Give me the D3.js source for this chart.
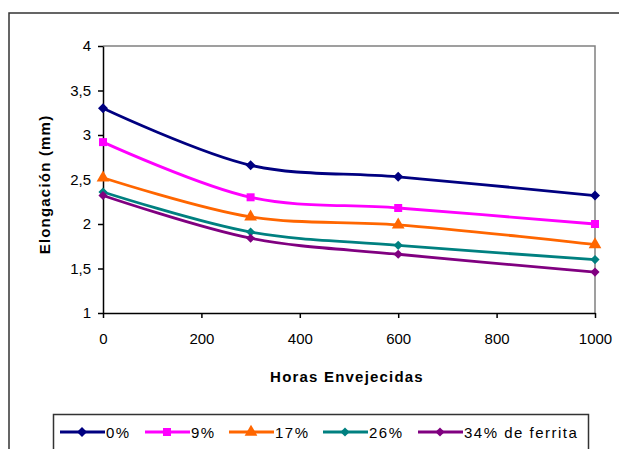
<!DOCTYPE html>
<html lang="es">
<head>
<meta charset="UTF-8">
<title>Elongación vs Horas Envejecidas</title>
<script src="https://d3js.org/d3.v7.min.js"></script>
<style>
  body { margin: 0; background: #fff; font-family: "Liberation Sans", Arial, sans-serif; }
</style>
</head>
<body>
<svg id="chart" width="619" height="449"></svg>
<script>
const hours = [0, 300, 600, 1000];
const seriesNames = ["0%", "9%", "17%", "26%", "34% de ferrita"];
const ferrite0 = [3.30, 2.66, 2.53, 2.32];
const ferrite9 = [2.92, 2.30, 2.18, 2.00];
const ferrite17 = [2.52, 2.08, 1.99, 1.77];
const ferrite26 = [2.36, 1.91, 1.76, 1.60];
const ferrite34 = [2.32, 1.84, 1.66, 1.46];
const yTicks = [1, 1.5, 2, 2.5, 3, 3.5, 4];
const xTicks = [0, 200, 400, 600, 800, 1000];

const colors = ["#000080", "#ff00ff", "#ff6600", "#008080", "#800080"];
// diamonds are drawn as squares turned 45 degrees
const symbols = [d3.symbolSquare, d3.symbolSquare, d3.symbolTriangle, d3.symbolSquare, d3.symbolSquare];
const symRot = [45, 0, 0, 45, 45];
const symSize = [50, 64, 70, 42, 42];

const series = [ferrite0, ferrite9, ferrite17, ferrite26, ferrite34].map((vals, i) => ({
  name: seriesNames[i],
  values: vals.map((v, j) => ({ x: hours[j], y: v }))
}));

const svg = d3.select("#chart");
const plotL = 103, plotR = 595, plotT = 46, plotB = 313;
const font = "'Liberation Sans', Arial, sans-serif";

// outer chart frame
svg.append("rect")
   .attr("x", 9).attr("y", 13)
   .attr("width", 640).attr("height", 460)
   .attr("fill", "none").attr("stroke", "#333").attr("stroke-width", 1.5);

const x = d3.scaleLinear().domain([0, 1000]).range([plotL, plotR]);
const y = d3.scaleLinear().domain([1, 4]).range([plotB, plotT]);

// plot area border (top / right)
svg.append("path")
   .attr("d", `M${plotL},${plotT}H${plotR}V${plotB}`)
   .attr("fill", "none").attr("stroke", "#808080").attr("stroke-width", 1.5);

const fmt = d => String(d).replace(".", ",");

const styleAxis = g => {
  g.attr("font-size", 15).attr("font-family", font);
  g.select(".domain").attr("stroke", "#000").attr("stroke-width", 1.5);
  g.selectAll(".tick line").attr("stroke", "#000").attr("stroke-width", 1.5);
  g.selectAll(".tick text").attr("fill", "#000");
};

svg.append("g")
   .attr("transform", `translate(0,${plotB})`)
   .call(d3.axisBottom(x).tickValues(xTicks).tickFormat(d => String(d)).tickSize(5).tickPadding(15).tickSizeOuter(0))
   .call(styleAxis);

svg.append("g")
   .attr("transform", `translate(${plotL},0)`)
   .call(d3.axisLeft(y).tickValues(yTicks).tickFormat(fmt).tickSize(5).tickPadding(7).tickSizeOuter(0))
   .call(styleAxis);

const line = d3.line()
   .x(d => x(d.x)).y(d => y(d.y))
   .curve(d3.curveCatmullRom.alpha(0.5));

const sg = svg.selectAll(".series")
   .data(series).enter().append("g").attr("class", "series");

sg.append("path")
  .attr("d", d => line(d.values))
  .attr("fill", "none")
  .attr("stroke", (d, i) => colors[i])
  .attr("stroke-width", 2.8);

sg.each(function(d, i) {
  d3.select(this).selectAll("path.mk")
    .data(d.values).enter().append("path")
    .attr("class", "mk")
    .attr("transform", p => `translate(${x(p.x)},${y(p.y)}) rotate(${symRot[i]})`)
    .attr("d", d3.symbol().type(symbols[i]).size(symSize[i]))
    .attr("fill", colors[i]);
});

svg.append("text")
   .attr("transform", `translate(50,${(plotT + plotB) / 2 + 5}) rotate(-90)`)
   .attr("text-anchor", "middle")
   .attr("font-family", font).attr("font-size", 15).attr("font-weight", "bold")
   .attr("letter-spacing", 1.2)
   .text("Elongación (mm)");

svg.append("text")
   .attr("x", 347).attr("y", 382)
   .attr("text-anchor", "middle")
   .attr("font-family", font).attr("font-size", 15).attr("font-weight", "bold")
   .attr("letter-spacing", 1.2)
   .text("Horas Envejecidas");

// legend
const legend = svg.append("g");
legend.append("rect")
      .attr("x", 53.5).attr("y", 414.5)
      .attr("width", 535).attr("height", 45)
      .attr("fill", "#fff").attr("stroke", "#333").attr("stroke-width", 1.5);

const legX = [60, 145, 229, 323, 418];
const ly = 432;
series.forEach((s, i) => {
  const g = legend.append("g").attr("transform", `translate(${legX[i]},${ly})`);
  g.append("line").attr("x1", 0).attr("x2", 45)
   .attr("stroke", colors[i]).attr("stroke-width", 2.8);
  g.append("path").attr("transform", `translate(22,0) rotate(${symRot[i]})`)
   .attr("d", d3.symbol().type(symbols[i]).size(symSize[i]))
   .attr("fill", colors[i]);
  g.append("text").attr("x", 46).attr("y", 5.5)
   .attr("font-family", font).attr("font-size", 15).attr("letter-spacing", 1.5)
   .text(s.name);
});
</script>
</body>
</html>
